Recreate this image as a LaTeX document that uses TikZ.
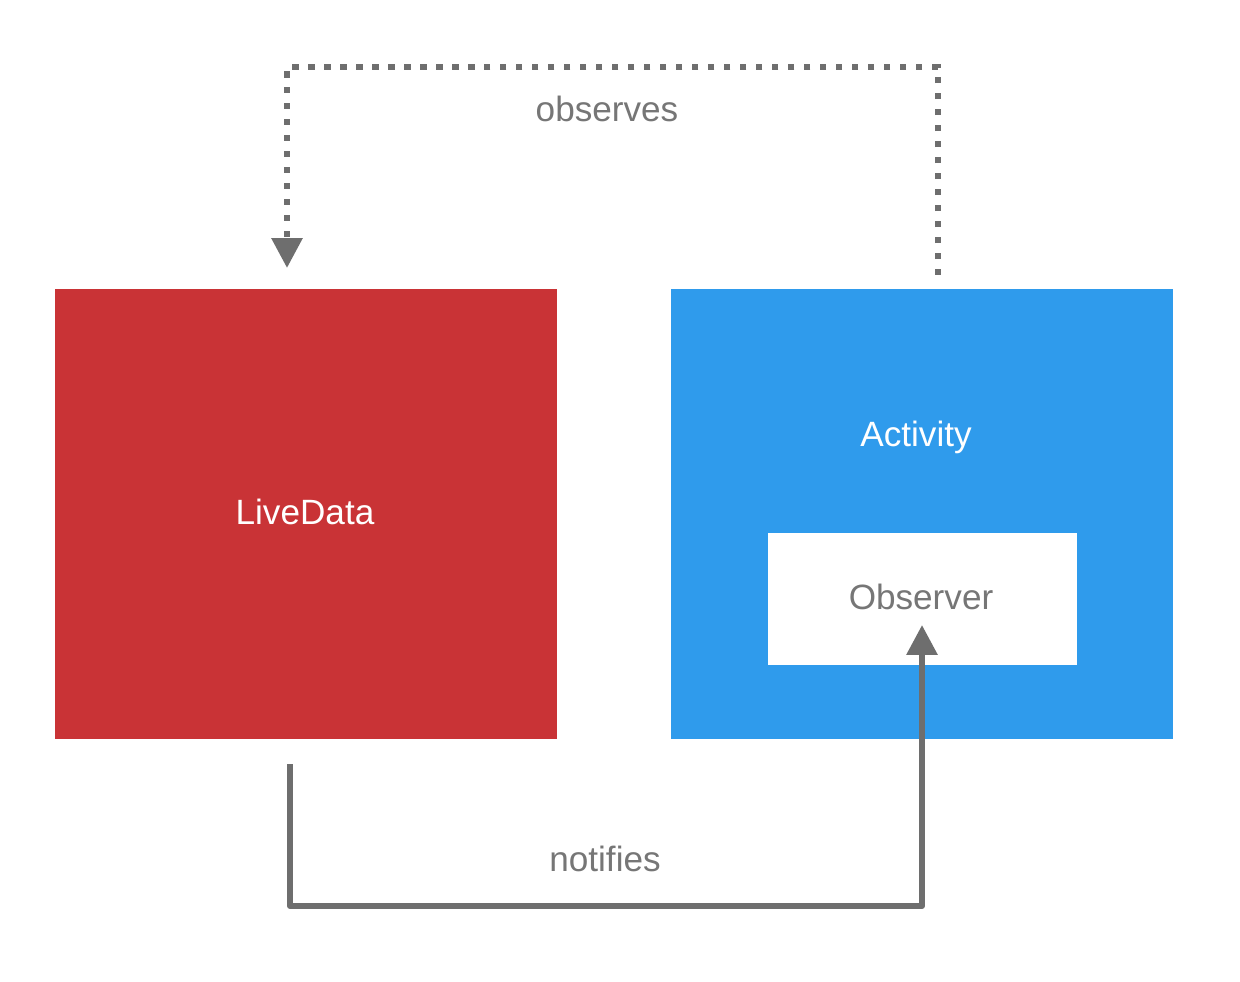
\documentclass[tikz,border=0pt]{standalone}
\usepackage{fontspec}
\setmainfont{Liberation Sans}
\usetikzlibrary{arrows.meta}
\definecolor{ldred}{HTML}{C93336}
\definecolor{actblue}{HTML}{2F9BEC}
\definecolor{linegray}{HTML}{6E6E6E}
\definecolor{txtgray}{HTML}{767676}
\begin{document}
\begin{tikzpicture}[x=0.02cm,y=-0.02cm,
  bigbox/.style={minimum width=10.04cm,minimum height=9cm,inner sep=0pt,draw=none},
  lbl/.style={font=\fontsize{20}{22}\selectfont,inner sep=0pt},
  conn/.style={draw=linegray,line width=3.5pt},
  tipstyle/.style={-{Triangle[length=17pt,width=17pt]}}]
\useasboundingbox (0,0) rectangle (1240,982);
\fill[white] (0,0) rectangle (1240,982);
\node[bigbox,fill=ldred] (ld) at (306,514) {};
\node[lbl,text=white] (ldtext) at (305,512) {LiveData};
\node[bigbox,fill=actblue] (act) at (922,514) {};
\node[lbl,text=white] (acttext) at (916,437) {Activity};
\node[fill=white,minimum width=6.18cm,minimum height=2.64cm,inner sep=0pt] (obs) at (922.5,599) {};
\node[lbl,text=txtgray] (obstext) at (921,597) {Observer};
\node[lbl,text=txtgray] (observes) at (607,109) {observes};
\node[lbl,text=txtgray] (notifies) at (605,859) {notifies};
\coordinate (o1) at (938,275);
\coordinate (o2) at (287,268);
\coordinate (n1) at (290,764);
\coordinate (n2) at (922,625);
\draw[conn,dash pattern=on 3.5pt off 5.6pt,tipstyle] (o1) -- (o1 |- 0,67) -- (o2 |- 0,67) -- (o2);
\draw[conn,line join=round,tipstyle] (n1) -- (n1 |- 0,906) -- (n2 |- 0,906) -- (n2);
\end{tikzpicture}
\end{document}
